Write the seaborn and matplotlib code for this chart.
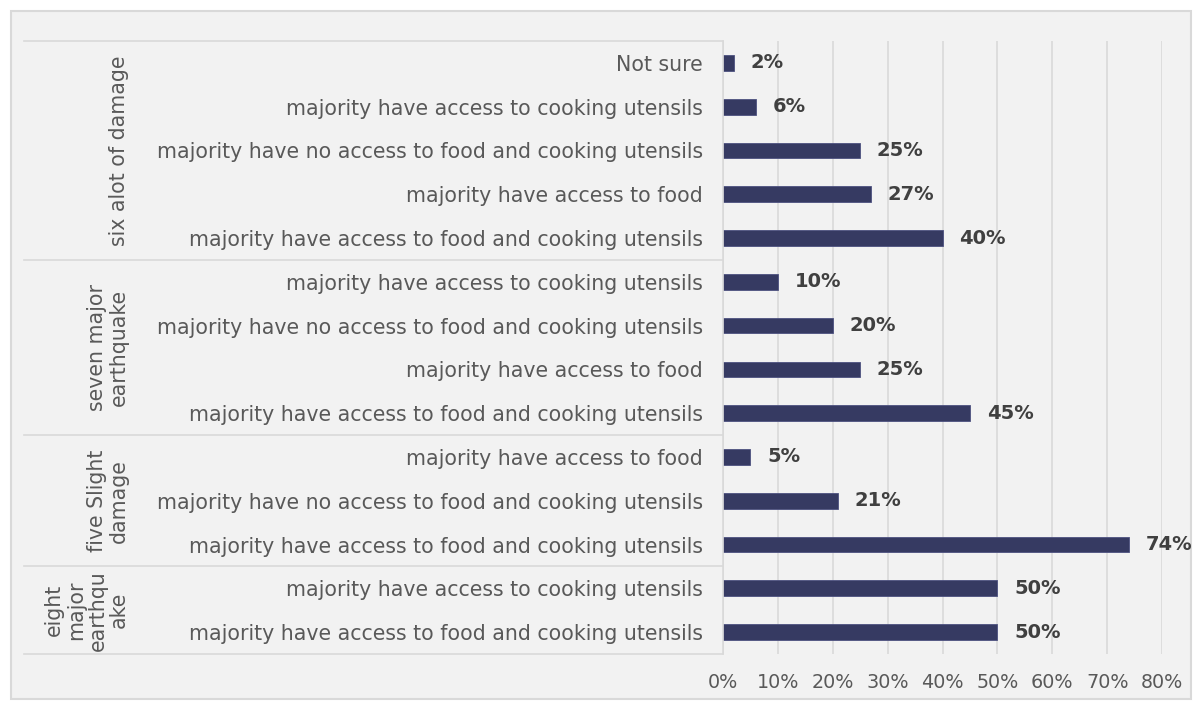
import matplotlib
matplotlib.use("Agg")
import matplotlib.pyplot as plt
import seaborn as sns
import pandas as pd
from matplotlib.patches import Rectangle
from matplotlib.lines import Line2D

# ---- data (top to bottom) ----
groups = ["six alot of damage", "seven major\nearthquake", "five Slight\ndamage", "eight\nmajor\nearthqu\nake"]
group_sizes = [5, 4, 3, 2]
categories = [
    "Not sure",
    "majority have access to cooking utensils",
    "majority have no access to food and cooking utensils",
    "majority have access to food",
    "majority have access to food and cooking utensils",
    "majority have access to cooking utensils",
    "majority have no access to food and cooking utensils",
    "majority have access to food",
    "majority have access to food and cooking utensils",
    "majority have access to food",
    "majority have no access to food and cooking utensils",
    "majority have access to food and cooking utensils",
    "majority have access to cooking utensils",
    "majority have access to food and cooking utensils",
]
values = [0.02, 0.06, 0.25, 0.27, 0.40, 0.10, 0.20, 0.25, 0.45, 0.05, 0.21, 0.74, 0.50, 0.50]
xticks = [0, 0.1, 0.2, 0.3, 0.4, 0.5, 0.6, 0.7, 0.8]

keys = [f"r{i}" for i in range(len(categories))]
df = pd.DataFrame({"key": keys, "label": categories, "value": values})

W, H = 1202, 708
fig = plt.figure(figsize=(W / 100, H / 100), dpi=100, facecolor="white")

# chart area background with border
bg = Rectangle((11 / W, 1 - 699 / H), (1191 - 11) / W, (699 - 11) / H,
               transform=fig.transFigure, facecolor="#f2f2f2",
               edgecolor="#d9d9d9", linewidth=1.5, zorder=-10)
fig.add_artist(bg)

left_px, right_px, top_px, bot_px = 723, 1162, 41, 654
ax = fig.add_axes([left_px / W, 1 - bot_px / H, (right_px - left_px) / W, (bot_px - top_px) / H])
ax.set_zorder(1)
ax.set_facecolor("none")

sns.barplot(data=df, x="value", y="key", order=keys, orient="h", color="#363a62",
            edgecolor="#4d5180", linewidth=0.6, width=0.36, ax=ax, saturation=1)

ax.set_xlim(0, 0.8)
ax.set_ylim(len(keys) - 0.5, -0.5)
ax.set_xticks(xticks)
ax.set_xticklabels([f"{int(round(t * 100))}%" for t in xticks])
ax.set_yticks(range(len(keys)))
ax.set_yticklabels(categories)
ax.set_xlabel("")
ax.set_ylabel("")
ax.tick_params(axis="y", length=0, pad=14.5, labelsize=14.8, labelcolor="#595959")
ax.tick_params(axis="x", length=0, pad=14, labelsize=13.8, labelcolor="#595959")
ax.grid(axis="x", color="#d9d9d9", linewidth=1.2)
ax.grid(axis="y", visible=False)
ax.set_axisbelow(True)
for s in ["top", "right", "bottom"]:
    ax.spines[s].set_visible(False)
ax.spines["left"].set_color("#d9d9d9")
ax.spines["left"].set_linewidth(1.2)

# data labels
for i, v in enumerate(values):
    ax.annotate(f"{int(round(v * 100))}%", (v, i), xytext=(12, 0), textcoords="offset points",
                ha="left", va="center", fontsize=14, fontweight="bold", color="#404040")

# group separators and labels
ax_w = right_px - left_px
x0_axes = (24 - left_px) / ax_w
bounds = [-0.5]
for n in group_sizes:
    bounds.append(bounds[-1] + n)
trans = ax.get_yaxis_transform()
for b in bounds:
    ax.add_line(Line2D([x0_axes, 0], [b, b], transform=trans, color="#d9d9d9",
                       linewidth=1.2, clip_on=False))
gx = (129 - left_px) / ax_w
for g, a, b in zip(groups, bounds[:-1], bounds[1:]):
    ax.text(gx, (a + b) / 2, g, transform=trans, rotation=90, ha="right", va="center",
            multialignment="center", fontsize=14.8, color="#595959", linespacing=1.1)

fig.savefig("out.png", dpi=100, facecolor="white")
